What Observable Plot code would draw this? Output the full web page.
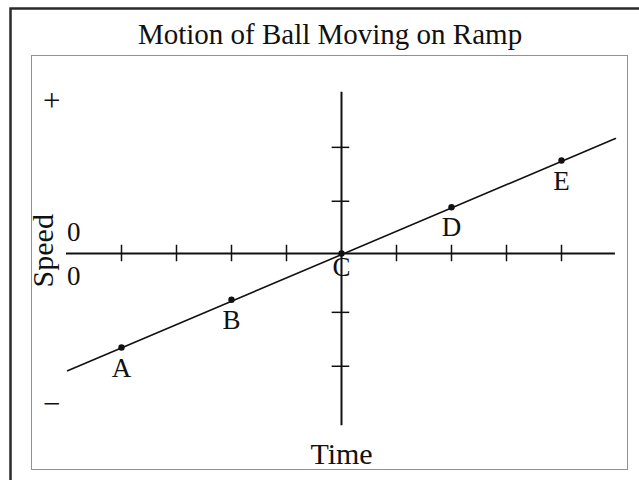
<!DOCTYPE html>
<html>
<head>
<meta charset="utf-8">
<script src="https://cdn.jsdelivr.net/npm/d3@7"></script>
<script src="https://cdn.jsdelivr.net/npm/@observablehq/plot@0.6"></script>
<style>
  html, body { margin: 0; padding: 0; background: #fff; }
  svg { display: block; }
</style>
</head>
<body>
<div id="chart"></div>
<script>
const title = "Motion of Ball Moving on Ramp";
const xLabel = "Time";
const yLabel = "Speed";

const pointLabels = ["A", "B", "C", "D", "E"];
const pointTime = [-4, -2, 0, 2, 4];
const pointSpeed = [-1.71, -0.84, 0, 0.84, 1.69];

const lineTime = [-4.98, 4.98];
const lineSpeed = [-2.13, 2.09];

const timeTicks = [-4, -3, -2, -1, 1, 2, 3, 4];
const speedTicks = [1.93, 0.95, -1.07, -2.05];

const timeAxisExtent = [-5, 4.98];
const speedAxisExtent = [-3.13, 2.93];

const signLabels = ["+", "\u2212"];
const signSpeed = [2.78, -2.73];
const signTime = [-5.27, -5.27];

const zeroLabels = ["0", "0"];
const zeroTime = [-4.87, -4.87];
const zeroSpeed = [0, 0];

const yLabelTime = -5.25;
const yLabelSpeed = 0.05;

const points = pointLabels.map((l, i) => ({label: l, t: pointTime[i], s: pointSpeed[i]}));
const linePts = lineTime.map((t, i) => ({t, s: lineSpeed[i]}));
const font = "'Liberation Serif', 'DejaVu Serif', serif";

const chart = Plot.plot({
  width: 639,
  height: 480,
  margin: 0,
  style: {fontFamily: font, background: "#fff"},
  x: {domain: [-5, 5], range: [66, 616], axis: null},
  y: {domain: [-3, 3], range: [418, 88], axis: null},
  marks: [
    Plot.frame({insetLeft: 10, insetTop: 8, insetRight: -10, insetBottom: -10, stroke: "#2a2a2a", strokeWidth: 2.5}),
    Plot.frame({insetLeft: 31, insetTop: 55, insetRight: 12, insetBottom: 11, stroke: "#222", strokeWidth: 1, strokeDasharray: "1,1"}),
    Plot.text([title], {text: d => d, frameAnchor: "top", dx: 10, dy: 43, lineAnchor: "bottom", fontSize: 29, fill: "#111"}),
    // axes
    Plot.ruleY([0], {x1: timeAxisExtent[0], x2: timeAxisExtent[1], stroke: "#111", strokeWidth: 2}),
    Plot.ruleX([0], {y1: speedAxisExtent[0], y2: speedAxisExtent[1], stroke: "#111", strokeWidth: 2}),
    Plot.ruleX(timeTicks, {x: d => d, y1: -0.15, y2: 0.15, stroke: "#111", strokeWidth: 1.5}),
    Plot.ruleY(speedTicks, {y: d => d, x1: -0.17, x2: 0.15, stroke: "#111", strokeWidth: 1.5}),
    // ramp line
    Plot.line(linePts, {x: "t", y: "s", stroke: "#111", strokeWidth: 1.6}),
    Plot.dot(points, {x: "t", y: "s", r: 3.2, fill: "#111", stroke: "none"}),
    Plot.text(points.filter(d => d.label !== "C"), {x: "t", y: "s", text: "label", lineAnchor: "top", dy: 10, fontSize: 27, fill: "#111"}),
    Plot.text(points.filter(d => d.label === "C"), {x: "t", y: "s", text: "label", lineAnchor: "top", dy: 3, fontSize: 27, fill: "#111"}),
    // sign labels
    Plot.text(signLabels, {x: (d, i) => signTime[i], y: (d, i) => signSpeed[i], text: d => d, fontSize: 31, fill: "#111"}),
    Plot.text(zeroLabels, {x: (d, i) => zeroTime[i], y: (d, i) => zeroSpeed[i], text: d => d, fontSize: 27, fill: "#111",
      filter: (d, i) => i === 0, dy: -21}),
    Plot.text(zeroLabels, {x: (d, i) => zeroTime[i], y: (d, i) => zeroSpeed[i], text: d => d, fontSize: 27, fill: "#111",
      filter: (d, i) => i === 1, dy: 23}),
    // axis labels
    Plot.text([xLabel], {text: d => d, frameAnchor: "bottom", dx: 21.5, dy: -17, lineAnchor: "bottom", fontSize: 30, fill: "#111"}),
    Plot.text([yLabel], {x: () => yLabelTime, y: () => yLabelSpeed, text: d => d, rotate: -90, lineAnchor: "bottom", fontSize: 30, fill: "#111"})
  ]
});
document.getElementById("chart").appendChild(chart);
</script>
</body>
</html>
